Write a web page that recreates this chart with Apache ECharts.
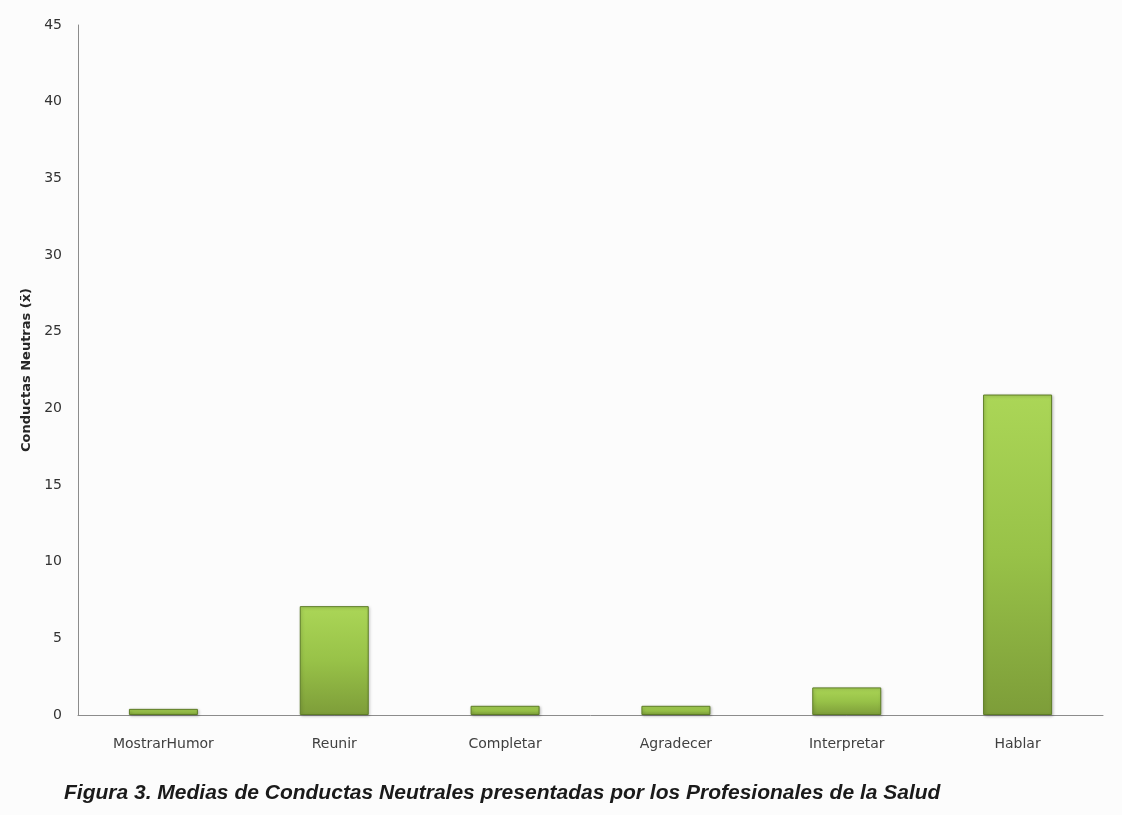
<!DOCTYPE html>
<html>
<head>
<meta charset="utf-8">
<script src="https://cdn.jsdelivr.net/npm/echarts@6/dist/echarts.min.js"></script>
<style>
  html, body { margin: 0; padding: 0; background: #fcfcfc; }
  #chart { width: 1122px; height: 815px; }
</style>
</head>
<body>
<div id="chart"></div>
<script>
// Mean neutral behaviours per category
const categories = ['MostrarHumor', 'Reunir', 'Completar', 'Agradecer', 'Interpretar', 'Hablar'];
const medias = [0.4, 7.1, 0.6, 0.6, 1.8, 20.9];
const yTicks = { min: 0, max: 45, interval: 5 };
const yTitle = 'Conductas Neutras (x\u0304)';
const caption = 'Figura 3. Medias de Conductas Neutrales presentadas por los Profesionales de la Salud';

const chart = echarts.init(document.getElementById('chart'));

const barFill = new echarts.graphic.LinearGradient(0, 0, 0, 1, [
  { offset: 0, color: '#abd657' },
  { offset: 0.5, color: '#98c248' },
  { offset: 1, color: '#7d9d39' }
]);

chart.setOption({
  backgroundColor: '#fcfcfc',
  animation: false,
  grid: { left: 78, right: 19, top: 25, bottom: 100, containLabel: false },
  xAxis: {
    type: 'category',
    data: categories,
    axisLine: { lineStyle: { color: '#8c8c8c', width: 1 } },
    axisTick: { show: false },
    axisLabel: { color: '#404040', fontSize: 14, fontFamily: 'DejaVu Sans', margin: 22 }
  },
  yAxis: {
    type: 'value',
    min: yTicks.min,
    max: yTicks.max,
    interval: yTicks.interval,
    name: yTitle,
    nameLocation: 'middle',
    nameGap: 42,
    nameTextStyle: { color: '#262626', fontSize: 13, fontWeight: 'bold', fontFamily: 'DejaVu Sans' },
    axisLine: { show: true, lineStyle: { color: '#8c8c8c', width: 1 } },
    axisTick: { show: false },
    splitLine: { show: false },
    axisLabel: { color: '#333333', fontSize: 14, fontFamily: 'DejaVu Sans', margin: 16 }
  },
  series: [{
    type: 'bar',
    data: medias,
    barWidth: 69,
    itemStyle: {
      color: barFill,
      borderColor: '#5e7d27',
      borderWidth: 1,
      shadowColor: 'rgba(0,0,0,0.25)',
      shadowBlur: 3,
      shadowOffsetX: 1,
      shadowOffsetY: 1
    }
  }],
  graphic: [{
    type: 'text',
    left: 64,
    top: 783,
    style: {
      text: caption,
      fill: '#1a1a1a',
      font: 'italic bold 21px "Liberation Sans", Arial, sans-serif'
    }
  }]
});
</script>
</body>
</html>
